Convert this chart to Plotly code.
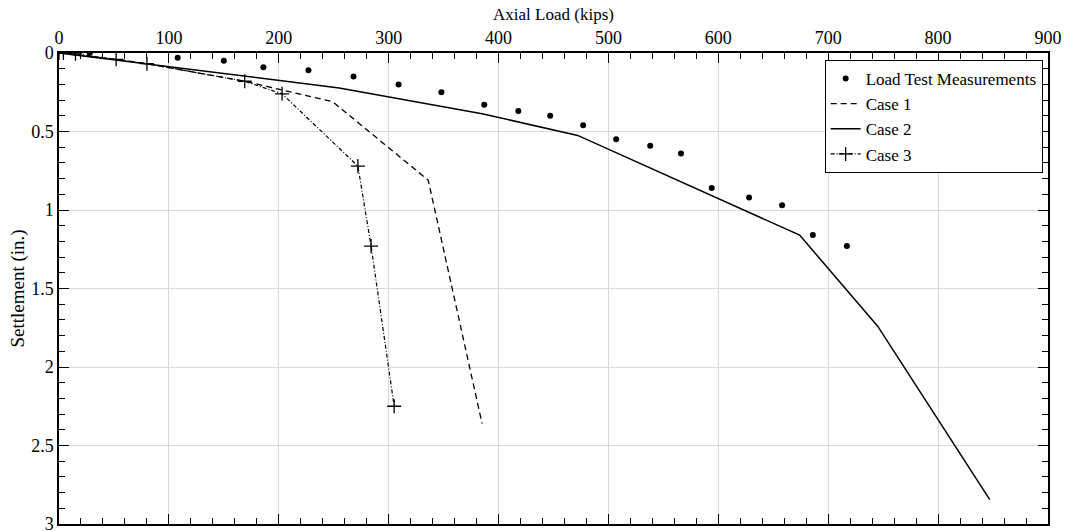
import plotly.graph_objects as go

# Load test measurements
meas_load = [28, 108, 150, 186, 227, 268, 309, 348, 387, 418, 447, 477, 507, 538, 566, 594, 628, 658, 686, 717]
meas_settle = [0.0, 0.03, 0.05, 0.09, 0.11, 0.15, 0.20, 0.25, 0.33, 0.37, 0.40, 0.46, 0.55, 0.59, 0.64, 0.86, 0.92, 0.97, 1.16, 1.23]

# Case 1 (dashed)
case1_load = [0, 52, 80, 169, 249, 336, 385]
case1_settle = [0.0, 0.04, 0.068, 0.18, 0.31, 0.81, 2.36]

# Case 2 (solid)
case2_load = [0, 255, 385, 472, 674, 745, 847]
case2_settle = [0.0, 0.223, 0.387, 0.525, 1.16, 1.74, 2.845]

# Case 3 (dash-dot with + markers)
case3_load = [0, 4, 15, 52, 80, 169, 203, 272, 284, 305]
case3_settle = [0.0, 0.0, 0.005, 0.04, 0.068, 0.18, 0.26, 0.72, 1.23, 2.25]

font_family = "Liberation Serif, Times New Roman, serif"

fig = go.Figure()
fig.add_trace(go.Scatter(x=meas_load, y=meas_settle, mode="markers", name="Load Test Measurements",
                         marker=dict(symbol="circle", size=6, color="black")))
fig.add_trace(go.Scatter(x=case1_load, y=case1_settle, mode="lines", name="Case 1",
                         line=dict(color="black", width=1.3, dash="6px,4px")))
fig.add_trace(go.Scatter(x=case2_load, y=case2_settle, mode="lines", name="Case 2",
                         line=dict(color="black", width=1.5)))
fig.add_trace(go.Scatter(x=case3_load, y=case3_settle, mode="lines+markers", name="Case 3",
                         line=dict(color="black", width=1.2, dash="4px,2px,1px,2px"),
                         marker=dict(symbol="cross-thin-open", size=10, line=dict(color="black", width=1.3))))

axis_common = dict(
    showline=True, linecolor="black", linewidth=1.5, mirror="ticks",
    ticks="inside", ticklen=10, tickwidth=1.3, tickcolor="black",
    showgrid=True, gridcolor="#d9d9d9", gridwidth=1, zeroline=False,
    tickfont=dict(family=font_family, size=18, color="black"),
    automargin=False, ticklabeloverflow="allow",
)

fig.update_xaxes(
    **axis_common, side="top", range=[0, 900], dtick=100,
    minor=dict(ticks="inside", dtick=20, ticklen=6, tickwidth=1.2, tickcolor="black", showgrid=False),
    title=dict(text="Axial Load (kips)", font=dict(family=font_family, size=17, color="black"), standoff=3),
)
fig.update_yaxes(
    **axis_common, range=[3, 0], dtick=0.5,
    minor=dict(ticks="inside", dtick=0.1, ticklen=6, tickwidth=1.2, tickcolor="black", showgrid=False),
    title=dict(text="Settlement (in.)", font=dict(family=font_family, size=19, color="black"), standoff=2),
)

fig.update_layout(
    width=1065, height=531,
    margin=dict(l=59, r=17, t=53, b=7),
    plot_bgcolor="white", paper_bgcolor="white",
    font=dict(family=font_family, color="black"),
    legend=dict(x=0.9946, y=0.985, xanchor="right", yanchor="top",
                bgcolor="white", bordercolor="black", borderwidth=1,
                font=dict(family=font_family, size=17, color="black"),
                tracegroupgap=0, itemwidth=30),
    showlegend=True,
)

# remove the default page margin so the figure fills the window exactly
fig.write_html("out.html", config={"displayModeBar": False},
               post_script="document.body.style.margin='0';document.body.style.overflow='hidden';")
